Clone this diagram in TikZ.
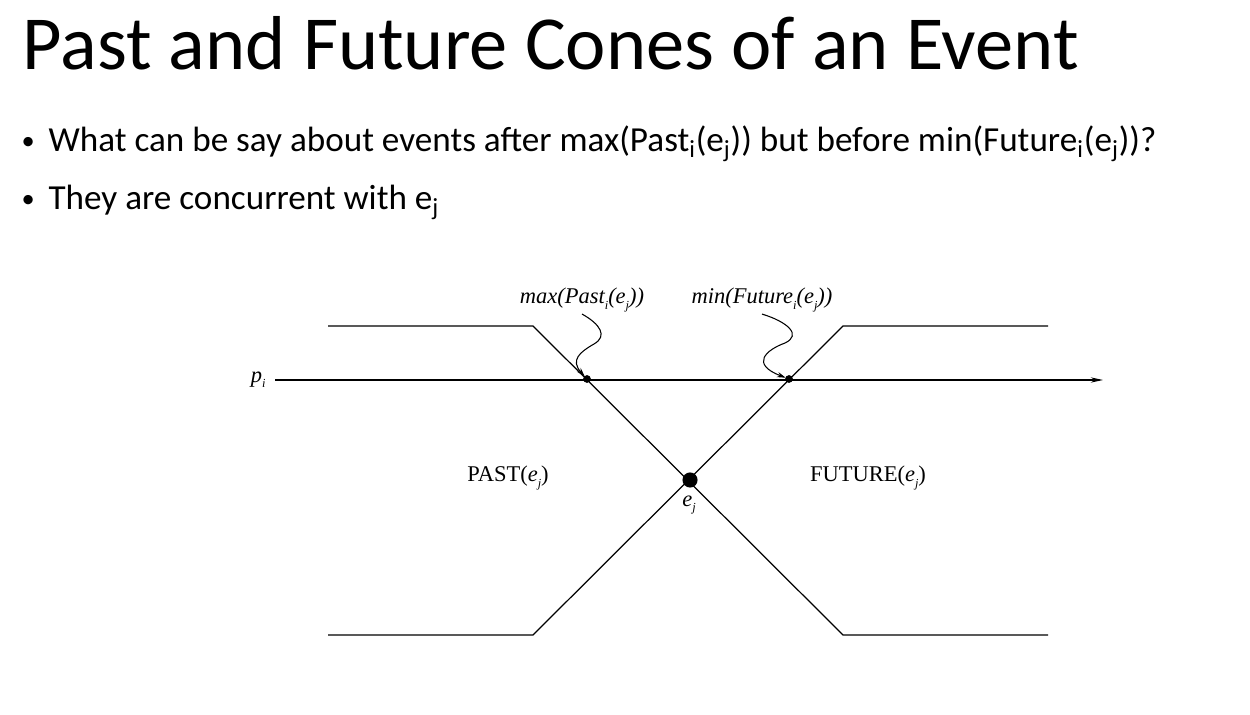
\documentclass[tikz,border=0pt]{standalone}
\usepackage{fontspec}
\setmainfont{Carlito}
\newfontfamily\tms{Liberation Serif}
\usetikzlibrary{arrows.meta}
\newcommand{\lowidx}[1]{\raisebox{-.5ex}{\scriptsize #1}}

\begin{document}
\begin{tikzpicture}[x=0.02cm,y=-0.02cm,line width=.7pt]
\useasboundingbox (0,0) rectangle (1250,715);
\tikzset{lbl/.style={inner sep=1pt,font={\tms\fontsize{12.8}{15}\selectfont}},
  bul/.style={anchor=base west,inner sep=0,font={\fontsize{20}{24}\selectfont}},
  wiggle/.style={line width=.6pt,-{Stealth[length=5pt,width=3pt]},shorten >=2pt}}
% slide text
\node[anchor=base west,inner sep=0] (title) at (22,70) {\fontsize{43.5}{50}\selectfont Past and Future Cones of an Event};
\node[bul] (dot1) at (21,150) {\fontsize{15}{18}\selectfont •};
\node[bul] (b1) at (48,152) {What can be say about events after max(Past\textsubscript{i}(e\textsubscript{j})) but before min(Future\textsubscript{i}(e\textsubscript{j}))?};
\node[bul] (dot2) at (21,208) {\fontsize{15}{18}\selectfont •};
\node[bul] (b2) at (48,210) {They are concurrent with e\textsubscript{j}};
% cones
\coordinate (TL) at (328,326); \coordinate (A1) at (533,326);
\coordinate (A2) at (843,326); \coordinate (TR) at (1048,326);
\coordinate (BL) at (328,635); \coordinate (B1) at (533,635);
\coordinate (B2) at (843,635); \coordinate (BR) at (1048,635);
\draw (TL)--(A1)--(B2)--(BR);
\draw (TR)--(A2)--(B1)--(BL);
% process line
\coordinate (P0) at (275,380); \coordinate (P1) at (1103,380);
\draw[-{Stealth[length=7pt,width=3pt]}] (P0)--(P1);
\node[lbl,left=4pt] (pi) at (P0) {\itshape p\lowidx{i}};
\coordinate (ej) at (690,480); \coordinate (q1) at (587,379); \coordinate (q2) at (789,379);
\fill (ej) circle (4.3pt);
\fill (q1) circle (2.2pt);
\fill (q2) circle (2.2pt);
\node[lbl] (ejl) at (689,505) {\itshape e\lowidx{j}};
\node[lbl] (past) at (508,478) {PAST(\textit{e}\lowidx{\textit{j}})};
\node[lbl] (fut) at (868,478) {FUTURE(\textit{e}\lowidx{\textit{j}})};
\node[lbl] (maxl) at (582,300) {\itshape max(Past\lowidx{i}(e\lowidx{j}))};
\node[lbl] (minl) at (762,300) {\itshape min(Future\lowidx{i}(e\lowidx{j}))};
\draw[wiggle] (maxl.south) .. controls (600,324) and (608,336) .. (594,344) .. controls (580,352) and (570,360) .. (q1);
\draw[wiggle] (minl.south) .. controls (788,322) and (802,335) .. (785,343) .. controls (766,350) and (750,364) .. (q2);
\end{tikzpicture}
\end{document}
